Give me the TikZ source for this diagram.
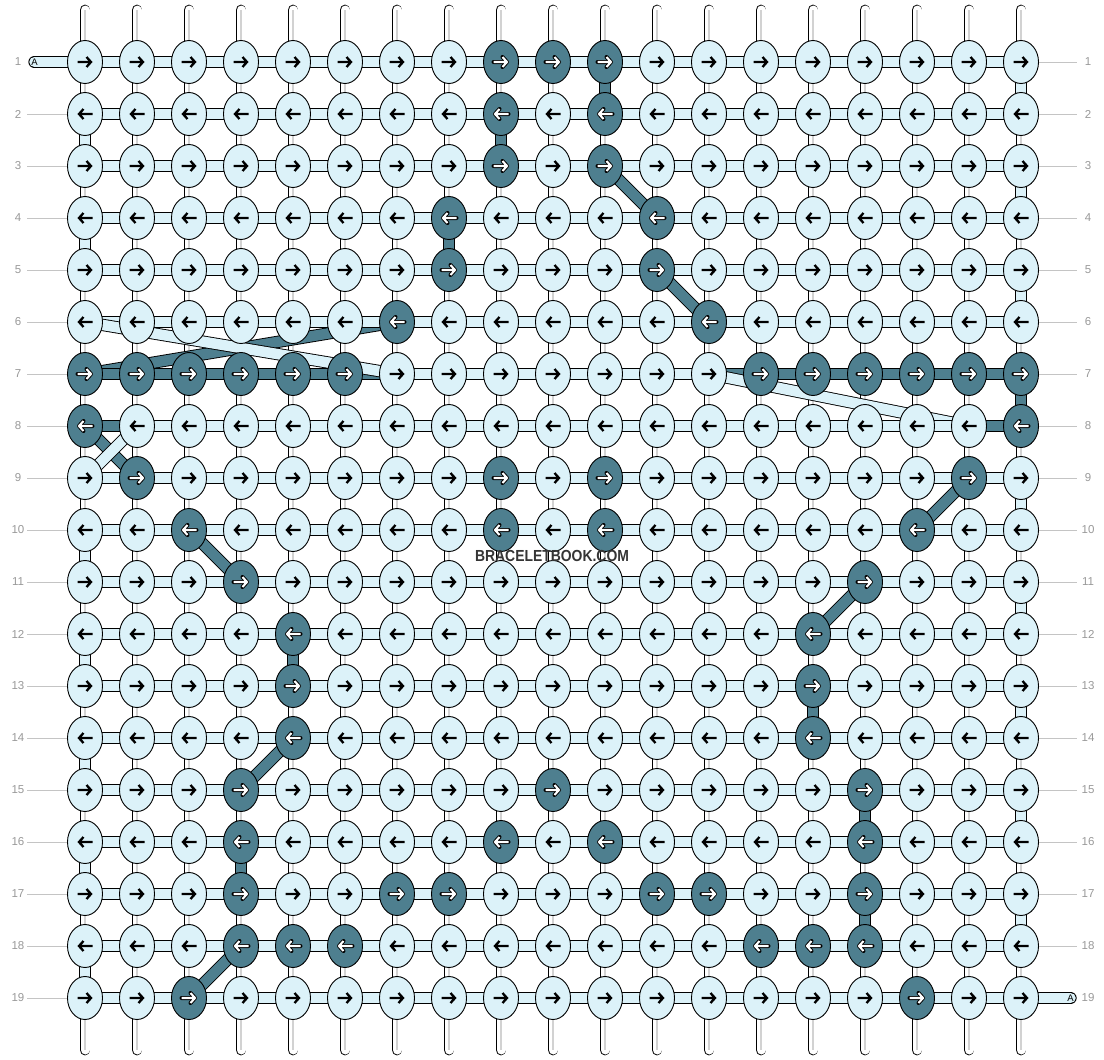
\documentclass[tikz,border=0pt]{standalone}
\usepackage{fontspec}
\setmainfont{Liberation Sans}
\usetikzlibrary{shapes.geometric}
\pgfdeclarelayer{warpl}
\pgfdeclarelayer{darkl}
\pgfdeclarelayer{lightl}
\pgfdeclarelayer{topl}
\pgfsetlayers{warpl,darkl,lightl,main,topl}
\definecolor{lightk}{HTML}{DCF2F9}
\definecolor{darkk}{HTML}{4E7F8F}
\definecolor{numgray}{HTML}{999999}
\definecolor{linegray}{HTML}{C4C4C4}
\definecolor{warpmid}{HTML}{D2D2D2}
\definecolor{wmark}{HTML}{353535}
\expandafter\def\csname dk1\endcsname{,9,10,11,}
\expandafter\def\csname dk2\endcsname{,9,11,}
\expandafter\def\csname dk3\endcsname{,9,11,}
\expandafter\def\csname dk4\endcsname{,8,12,}
\expandafter\def\csname dk5\endcsname{,8,12,}
\expandafter\def\csname dk6\endcsname{,7,13,}
\expandafter\def\csname dk7\endcsname{,1,2,3,4,5,6,14,15,16,17,18,19,}
\expandafter\def\csname dk8\endcsname{,1,19,}
\expandafter\def\csname dk9\endcsname{,2,9,11,18,}
\expandafter\def\csname dk10\endcsname{,3,9,11,17,}
\expandafter\def\csname dk11\endcsname{,4,16,}
\expandafter\def\csname dk12\endcsname{,5,15,}
\expandafter\def\csname dk13\endcsname{,5,15,}
\expandafter\def\csname dk14\endcsname{,5,15,}
\expandafter\def\csname dk15\endcsname{,4,10,16,}
\expandafter\def\csname dk16\endcsname{,4,9,11,16,}
\expandafter\def\csname dk17\endcsname{,4,7,8,12,13,16,}
\expandafter\def\csname dk18\endcsname{,4,5,6,14,15,16,}
\expandafter\def\csname dk19\endcsname{,3,17,}
\makeatletter
\newcommand\setks[2]{\edef\td@tmp{\noexpand\in@{,#2,}{\csname dk#1\endcsname}}\td@tmp
  \ifin@\def\ks{dkknot}\def\as{darrow}\else\def\ks{ltknot}\def\as{larrow}\fi}
\makeatother
\tikzset{
  knotbase/.style={ellipse, draw=black, line width=0.9pt, minimum width=35pt, minimum height=43pt, inner sep=0pt},
  ltknot/.style={knotbase, fill=lightk},
  dkknot/.style={knotbase, fill=darkk},
  larrow/.style={draw=black, line width=2.3pt, line cap=butt, line join=miter},
  darrow/.style={draw=white, line width=2.1pt, line cap=butt, line join=miter,
    preaction={draw=black, line width=4pt, line cap=round, line join=round}},
  warpst/.style={draw=black, line width=0.9pt, double=white, double distance=9pt, line cap=round},
  warpmidst/.style={draw=warpmid, line width=1.1pt},
  lightw/.style={draw=black, line width=0.9pt, double=lightk, double distance=10.5pt, line cap=butt},
  darkw/.style={draw=black, line width=0.9pt, double=darkk, double distance=10.5pt, line cap=butt},
  rowline/.style={draw=linegray, line width=0.9pt},
  numlab/.style={text=numgray, font=\fontsize{11.5}{12}\selectfont, inner sep=0pt},
  alab/.style={text=black, font=\fontsize{9.5}{10}\selectfont, inner sep=0pt},
  wmtext/.style={text=wmark, font=\bfseries\fontsize{16}{16}\selectfont, inner sep=0pt}
}
\begin{document}
\begin{tikzpicture}[x=1pt,y=-1pt]
\useasboundingbox (0,0) rectangle (1104,1060);
\begin{pgfonlayer}{warpl}
  \fill[white] (0,0) rectangle (1104,1060);
  \foreach \c in {1,...,19}{
    \pgfmathsetmacro\xx{33+52*\c}
    \coordinate (wt-\c) at (\xx,10);
    \coordinate (wb-\c) at (\xx,1050);
    \draw[warpst] (wt-\c) -- (wb-\c);
    \draw[warpmidst] (wt-\c) -- (wb-\c);
  }
\end{pgfonlayer}
% knots
\foreach \r in {1,...,19}{
  \foreach \c in {1,...,19}{
    \setks{\r}{\c}
    \pgfmathsetmacro\xx{33+52*\c}
    \pgfmathsetmacro\yy{10+52*\r}
    \ifodd\r\relax\def\d{1}\else\def\d{-1}\fi
    \node[\ks] (k-\r-\c) at (\xx,\yy) {};
    \draw[\as] ({\xx-7.5*(\d)},\yy) -- ({\xx+6*(\d)},\yy)
               ({\xx+1.5*(\d)},{\yy-5}) -- ({\xx+6*(\d)},\yy) -- ({\xx+1.5*(\d)},{\yy+5});
  }
}
% row labels and guide lines
\begin{pgfonlayer}{warpl}
\foreach \r in {1,...,19}{
  \pgfmathsetmacro\yy{10+52*\r}
  \node[numlab] (nl-\r) at (18,\yy) {\r};
  \node[numlab] (nr-\r) at (1088,\yy) {\r};
  \coordinate (lL-\r) at (27,\yy);
  \coordinate (lR-\r) at (1077,\yy);
}
\foreach \r in {2,...,19}{\draw[rowline] (lL-\r) -- (k-\r-1.west);}
\foreach \r in {1,...,18}{\draw[rowline] (k-\r-19.east) -- (lR-\r);}
\end{pgfonlayer}
% dark string
\begin{pgfonlayer}{darkl}
\foreach \n [remember=\n as \p (initially 1-9)] in {1-10,1-11,2-11,2-9,3-9,3-11,4-12,4-8,5-8,5-12,6-13,6-7,7-1,7-2,7-3,7-4,7-5,7-6,7-14,7-15,7-16,7-17,7-18,7-19,8-19,8-1,9-2,9-9,9-11,9-18,10-17,10-11,10-9,10-3,11-4,11-16,12-15,12-5,13-5,13-15,14-15,14-5,15-4,15-10,15-16,16-16,16-11,16-9,16-4,17-4,17-7,17-8,17-12,17-13,17-16,18-16,18-15,18-14,18-6,18-5,18-4,19-3,19-17}
  {\draw[darkw] (k-\p.center) -- (k-\n.center);}
\end{pgfonlayer}
% light string
\begin{pgfonlayer}{lightl}
\coordinate (aL) at (34.5,62);
\coordinate (aR) at (1070.5,998);
\draw[lightw, line cap=round] (aL) -- (k-1-1.center);
\foreach \n [remember=\n as \p (initially 1-1)] in {1-19,2-19,2-1,3-1,3-19,4-19,4-1,5-1,5-19,6-19,6-1,7-7,7-13,8-18,8-2,9-1,9-19,10-19,10-1,11-1,11-19,12-19,12-1,13-1,13-19,14-19,14-1,15-1,15-19,16-19,16-1,17-1,17-19,18-19,18-1,19-1,19-19}
  {\draw[lightw] (k-\p.center) -- (k-\n.center);}
\draw[lightw, line cap=round] (k-19-19.center) -- (aR);
\end{pgfonlayer}
\begin{pgfonlayer}{topl}
\node[alab] (al) at (aL) {A};
\node[alab] (ar) at (aR) {A};
\node[wmtext] (wm) at (552,556) {\scalebox{0.87}[1]{BRACELETBOOK.COM}};
\end{pgfonlayer}
\end{tikzpicture}
\end{document}
